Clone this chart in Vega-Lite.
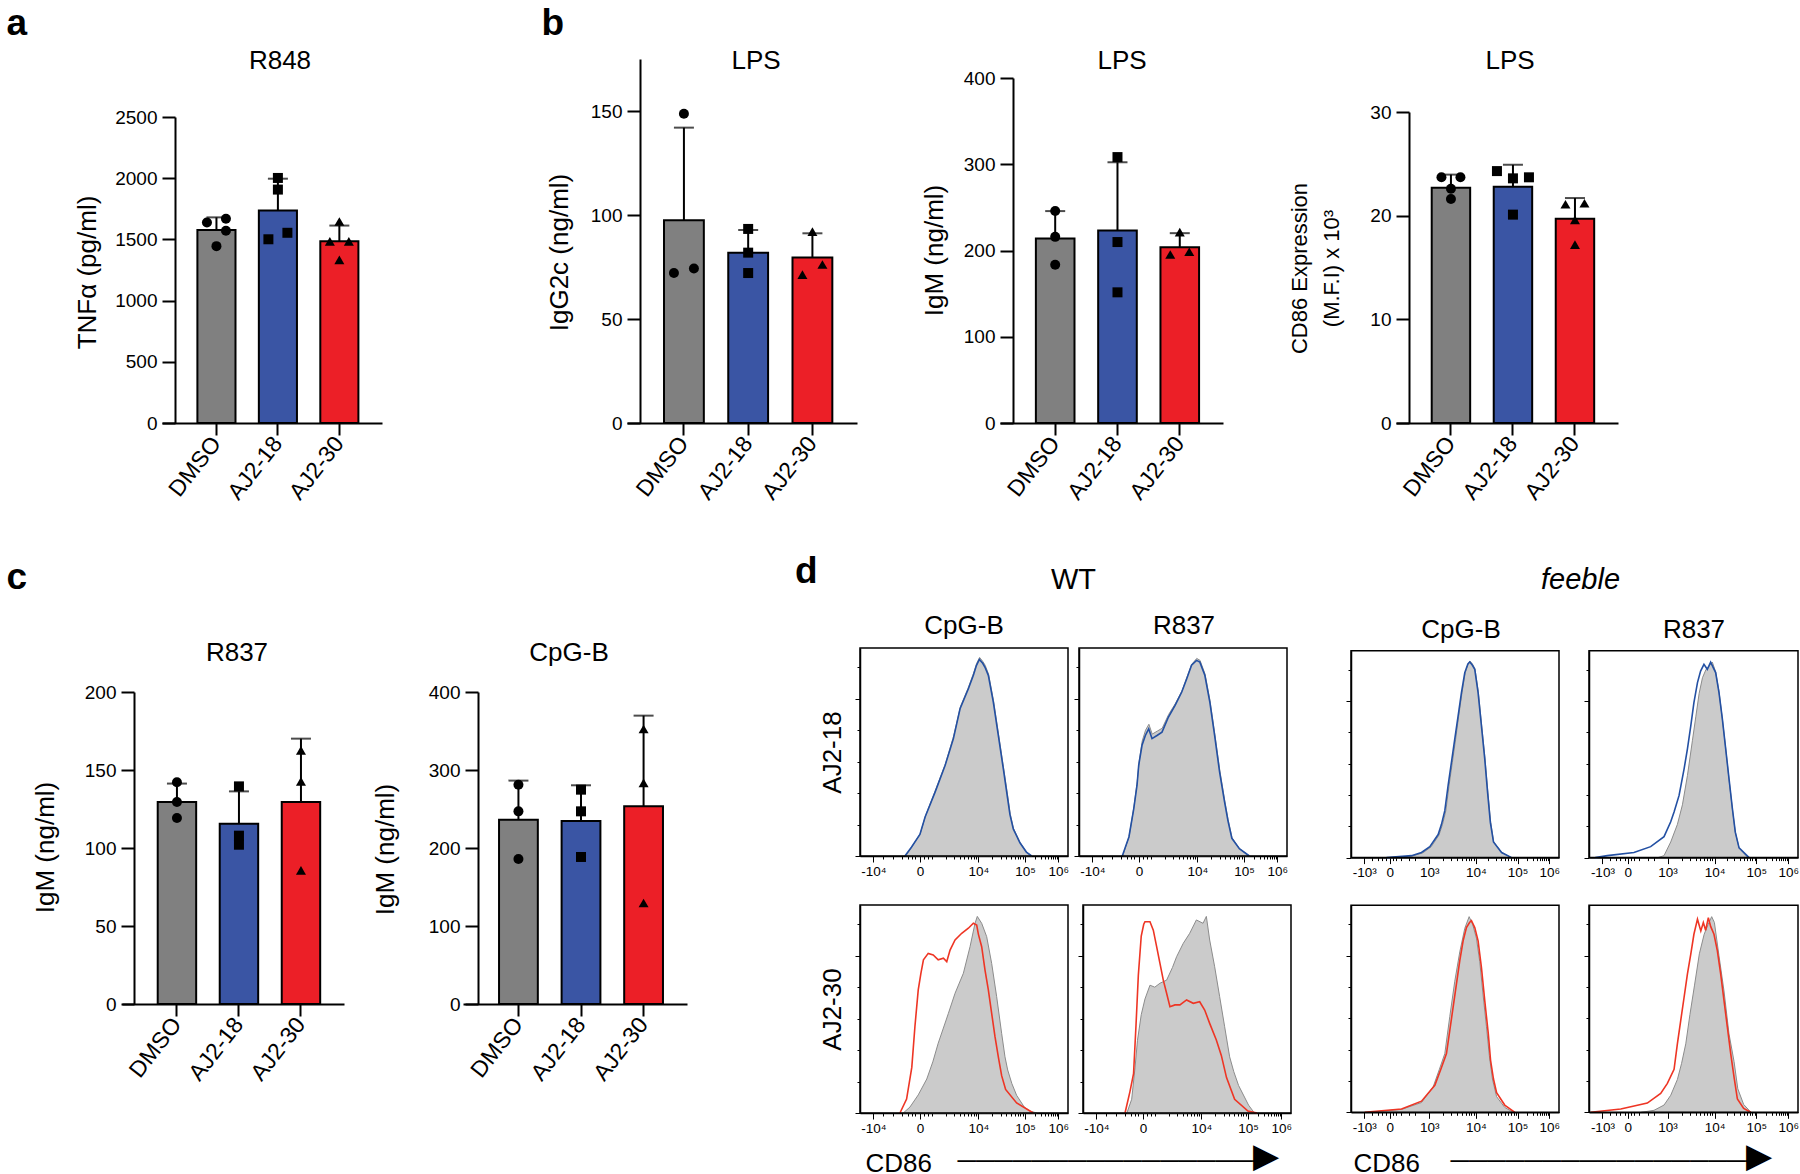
{
"$schema": "https://vega.github.io/schema/vega-lite/v6.json",
"background": "white",
"padding": 0,
"spacing": 0,
"config": {
  "font": "Liberation Sans",
  "view": {"stroke": null},
  "concat": {"spacing": 0},
  "axis": {"grid": false, "domainColor": "#000", "tickColor": "#000", "labelColor": "#000", "titleColor": "#000", "labelFont": "Liberation Sans", "titleFont": "Liberation Sans", "titleFontWeight": "normal"},
  "title": {"fontWeight": "normal", "color": "#000", "baseline": "alphabetic", "font": "Liberation Sans"}
},
"datasets": {
  "bars": [
    {"panel":"a","grp":"DMSO","mean":1576,"hi":1680},
    {"panel":"a","grp":"AJ2-18","mean":1736,"hi":1996},
    {"panel":"a","grp":"AJ2-30","mean":1484,"hi":1613},
    {"panel":"b1","grp":"DMSO","mean":97.5,"hi":142},
    {"panel":"b1","grp":"AJ2-18","mean":81.9,"hi":92.8},
    {"panel":"b1","grp":"AJ2-30","mean":79.6,"hi":91.2},
    {"panel":"b2","grp":"DMSO","mean":213.8,"hi":245.7},
    {"panel":"b2","grp":"AJ2-18","mean":223.3,"hi":302.3},
    {"panel":"b2","grp":"AJ2-30","mean":203.8,"hi":220.1},
    {"panel":"b3","grp":"DMSO","mean":22.7,"hi":23.96},
    {"panel":"b3","grp":"AJ2-18","mean":22.8,"hi":24.9},
    {"panel":"b3","grp":"AJ2-30","mean":19.7,"hi":21.7},
    {"panel":"c1","grp":"DMSO","mean":129.5,"hi":141.3},
    {"panel":"c1","grp":"AJ2-18","mean":115.6,"hi":136.3},
    {"panel":"c1","grp":"AJ2-30","mean":129.5,"hi":170.1},
    {"panel":"c2","grp":"DMSO","mean":236.3,"hi":286.4},
    {"panel":"c2","grp":"AJ2-18","mean":234.6,"hi":280.4},
    {"panel":"c2","grp":"AJ2-30","mean":253.4,"hi":369.7}
  ],
  "pts": [
    {"panel":"a","grp":"DMSO","v":1638,"j":-1},{"panel":"a","grp":"DMSO","v":1669,"j":1},{"panel":"a","grp":"DMSO","v":1571,"j":1},{"panel":"a","grp":"DMSO","v":1445,"j":0},
    {"panel":"a","grp":"AJ2-18","v":2002,"j":0},{"panel":"a","grp":"AJ2-18","v":1907,"j":0},{"panel":"a","grp":"AJ2-18","v":1501,"j":-1},{"panel":"a","grp":"AJ2-18","v":1554,"j":1},
    {"panel":"a","grp":"AJ2-30","v":1646,"j":0},{"panel":"a","grp":"AJ2-30","v":1484,"j":-1},{"panel":"a","grp":"AJ2-30","v":1484,"j":1},{"panel":"a","grp":"AJ2-30","v":1333,"j":0},
    {"panel":"b1","grp":"DMSO","v":148.7,"j":0},{"panel":"b1","grp":"DMSO","v":72.1,"j":-1},{"panel":"b1","grp":"DMSO","v":74.3,"j":1},
    {"panel":"b1","grp":"AJ2-18","v":93.3,"j":0},{"panel":"b1","grp":"AJ2-18","v":81.9,"j":0},{"panel":"b1","grp":"AJ2-18","v":72.1,"j":0},
    {"panel":"b1","grp":"AJ2-30","v":92,"j":0},{"panel":"b1","grp":"AJ2-30","v":71.3,"j":-1},{"panel":"b1","grp":"AJ2-30","v":76.2,"j":1},
    {"panel":"b2","grp":"DMSO","v":245.7,"j":0},{"panel":"b2","grp":"DMSO","v":215.8,"j":0},{"panel":"b2","grp":"DMSO","v":183.5,"j":0},
    {"panel":"b2","grp":"AJ2-18","v":308.3,"j":0},{"panel":"b2","grp":"AJ2-18","v":209.8,"j":0},{"panel":"b2","grp":"AJ2-18","v":151.5,"j":0},
    {"panel":"b2","grp":"AJ2-30","v":221.3,"j":0},{"panel":"b2","grp":"AJ2-30","v":195.4,"j":-1},{"panel":"b2","grp":"AJ2-30","v":198.6,"j":1},
    {"panel":"b3","grp":"DMSO","v":23.7,"j":-1},{"panel":"b3","grp":"DMSO","v":23.7,"j":1},{"panel":"b3","grp":"DMSO","v":22.6,"j":0},{"panel":"b3","grp":"DMSO","v":21.6,"j":0},
    {"panel":"b3","grp":"AJ2-18","v":24.3,"j":-2},{"panel":"b3","grp":"AJ2-18","v":23.6,"j":0},{"panel":"b3","grp":"AJ2-18","v":23.7,"j":2},{"panel":"b3","grp":"AJ2-18","v":20.1,"j":0},
    {"panel":"b3","grp":"AJ2-30","v":21.1,"j":-1},{"panel":"b3","grp":"AJ2-30","v":21.2,"j":1},{"panel":"b3","grp":"AJ2-30","v":19.6,"j":0},{"panel":"b3","grp":"AJ2-30","v":17.2,"j":0},
    {"panel":"c1","grp":"DMSO","v":142.1,"j":0},{"panel":"c1","grp":"DMSO","v":129.5,"j":0},{"panel":"c1","grp":"DMSO","v":119.2,"j":0},
    {"panel":"c1","grp":"AJ2-18","v":139.5,"j":0},{"panel":"c1","grp":"AJ2-18","v":107.9,"j":0},{"panel":"c1","grp":"AJ2-18","v":102.1,"j":0},
    {"panel":"c1","grp":"AJ2-30","v":162.6,"j":0},{"panel":"c1","grp":"AJ2-30","v":142.7,"j":0},{"panel":"c1","grp":"AJ2-30","v":85.7,"j":0},
    {"panel":"c2","grp":"DMSO","v":281.2,"j":0},{"panel":"c2","grp":"DMSO","v":247,"j":0},{"panel":"c2","grp":"DMSO","v":185.9,"j":0},
    {"panel":"c2","grp":"AJ2-18","v":274.8,"j":0},{"panel":"c2","grp":"AJ2-18","v":247,"j":0},{"panel":"c2","grp":"AJ2-18","v":188.5,"j":0},
    {"panel":"c2","grp":"AJ2-30","v":352.6,"j":0},{"panel":"c2","grp":"AJ2-30","v":283.4,"j":0},{"panel":"c2","grp":"AJ2-30","v":129.5,"j":0}
  ],
  "w1t": [{"x":216,"y":0},{"x":248,"y":4.6},{"x":288,"y":11},{"x":313,"y":19.8},{"x":361,"y":32.5},{"x":409,"y":46},{"x":449,"y":59.7},{"x":481,"y":74.9},{"x":521,"y":85.1},{"x":545,"y":91.9},{"x":560,"y":97},{"x":574,"y":100},{"x":590,"y":98},{"x":601,"y":96},{"x":617,"y":91.9},{"x":641,"y":78.3},{"x":665,"y":61.3},{"x":689,"y":44.4},{"x":710,"y":29.1},{"x":721,"y":21},{"x":737,"y":13.8},{"x":769,"y":6.7},{"x":800,"y":2},{"x":825,"y":0}],
  "w1c": [{"x":220,"y":0},{"x":250,"y":4.8},{"x":290,"y":11.5},{"x":315,"y":20.5},{"x":363,"y":33.5},{"x":411,"y":47},{"x":450,"y":61},{"x":483,"y":76},{"x":522,"y":86},{"x":546,"y":93},{"x":561,"y":98},{"x":575,"y":101},{"x":590,"y":99},{"x":602,"y":97},{"x":618,"y":92.5},{"x":642,"y":79},{"x":666,"y":62},{"x":690,"y":45},{"x":711,"y":30},{"x":722,"y":21.5},{"x":738,"y":14},{"x":770,"y":6.8},{"x":800,"y":2},{"x":826,"y":0}],
  "w2t": [{"x":208,"y":0},{"x":240,"y":9.7},{"x":263,"y":23.9},{"x":279,"y":36},{"x":287,"y":46.1},{"x":303,"y":56.3},{"x":319,"y":61.3},{"x":335,"y":64.7},{"x":351,"y":59.7},{"x":375,"y":61.3},{"x":399,"y":63},{"x":430,"y":70.7},{"x":462,"y":76.6},{"x":494,"y":83.4},{"x":518,"y":90.2},{"x":541,"y":97},{"x":565,"y":99.5},{"x":581,"y":98.6},{"x":605,"y":91.9},{"x":629,"y":78.3},{"x":652,"y":61.3},{"x":676,"y":42.7},{"x":700,"y":27.4},{"x":716,"y":18},{"x":735,"y":9},{"x":771,"y":3.7},{"x":819,"y":0}],
  "w2c": [{"x":210,"y":0},{"x":241,"y":10},{"x":264,"y":25},{"x":280,"y":38},{"x":289,"y":48},{"x":304,"y":58.5},{"x":320,"y":64},{"x":336,"y":67},{"x":352,"y":62},{"x":376,"y":63.5},{"x":400,"y":65},{"x":431,"y":72},{"x":463,"y":77.5},{"x":495,"y":84},{"x":519,"y":91},{"x":542,"y":97.5},{"x":566,"y":100.5},{"x":582,"y":99.5},{"x":606,"y":92.5},{"x":630,"y":79},{"x":653,"y":62},{"x":677,"y":43.5},{"x":701,"y":28},{"x":717,"y":18.5},{"x":736,"y":9.2},{"x":772,"y":3.7},{"x":820,"y":0}],
  "w3t": [{"x":192,"y":0},{"x":224,"y":7.1},{"x":249,"y":23.2},{"x":264,"y":43.9},{"x":280,"y":62.6},{"x":293,"y":71.1},{"x":305,"y":77.9},{"x":328,"y":81.2},{"x":352,"y":80.4},{"x":376,"y":77.9},{"x":401,"y":78.7},{"x":417,"y":77},{"x":433,"y":82.9},{"x":457,"y":88},{"x":489,"y":91.4},{"x":521,"y":94},{"x":545,"y":96.5},{"x":561,"y":95.6},{"x":569,"y":91},{"x":585,"y":84.6},{"x":601,"y":72.7},{"x":617,"y":62.6},{"x":633,"y":50.7},{"x":649,"y":38.8},{"x":665,"y":28.6},{"x":681,"y":19},{"x":700,"y":12},{"x":753,"y":5.1},{"x":833,"y":0}],
  "w3c": [{"x":208,"y":0},{"x":240,"y":3},{"x":280,"y":9.2},{"x":321,"y":17.3},{"x":350,"y":26},{"x":376,"y":35.5},{"x":425,"y":50.7},{"x":457,"y":60.9},{"x":497,"y":71.1},{"x":529,"y":84.6},{"x":553,"y":96.5},{"x":564,"y":100},{"x":585,"y":96.5},{"x":609,"y":89.7},{"x":633,"y":76.1},{"x":657,"y":59.2},{"x":681,"y":40.5},{"x":697,"y":28.6},{"x":710,"y":21.9},{"x":730,"y":15},{"x":753,"y":9},{"x":790,"y":3},{"x":817,"y":1},{"x":850,"y":0}],
  "w4t": [{"x":202,"y":0},{"x":226,"y":11},{"x":243,"y":20},{"x":255,"y":45},{"x":266,"y":70},{"x":280,"y":90},{"x":292,"y":96},{"x":298,"y":97.3},{"x":322,"y":97.3},{"x":338,"y":93},{"x":354,"y":84.6},{"x":370,"y":76.1},{"x":386,"y":67.6},{"x":402,"y":60.9},{"x":418,"y":54.1},{"x":442,"y":55},{"x":466,"y":55},{"x":498,"y":57.5},{"x":530,"y":55.8},{"x":561,"y":56.6},{"x":585,"y":52.4},{"x":609,"y":45.6},{"x":641,"y":37.1},{"x":665,"y":29.3},{"x":690,"y":18},{"x":729,"y":7},{"x":793,"y":1},{"x":837,"y":0}],
  "w4c": [{"x":211,"y":0},{"x":234,"y":7},{"x":250,"y":23},{"x":262,"y":37},{"x":280,"y":50},{"x":298,"y":58},{"x":322,"y":65},{"x":345,"y":64},{"x":370,"y":66},{"x":402,"y":67.6},{"x":430,"y":74},{"x":450,"y":79.5},{"x":482,"y":86.3},{"x":513,"y":91.4},{"x":545,"y":98.2},{"x":577,"y":96.5},{"x":593,"y":100},{"x":609,"y":88},{"x":633,"y":74.4},{"x":657,"y":59.2},{"x":681,"y":43.9},{"x":705,"y":28.6},{"x":725,"y":21},{"x":748,"y":14},{"x":796,"y":4},{"x":824,"y":0}],
  "f1t": [{"x":171,"y":0},{"x":291,"y":1},{"x":339,"y":2.6},{"x":379,"y":5.6},{"x":419,"y":11.8},{"x":435,"y":17},{"x":451,"y":24},{"x":467,"y":36.9},{"x":483,"y":48.8},{"x":499,"y":60.7},{"x":515,"y":72.5},{"x":531,"y":84.4},{"x":547,"y":94.6},{"x":562,"y":99},{"x":571,"y":100},{"x":583,"y":98.5},{"x":595,"y":96.3},{"x":611,"y":84.4},{"x":627,"y":67.4},{"x":643,"y":50.5},{"x":657,"y":33},{"x":670,"y":18},{"x":685,"y":8},{"x":724,"y":2.6},{"x":772,"y":0}],
  "f1c": [{"x":180,"y":0},{"x":295,"y":0.8},{"x":345,"y":2.4},{"x":385,"y":5.5},{"x":423,"y":11.5},{"x":440,"y":17},{"x":456,"y":24},{"x":471,"y":36.5},{"x":487,"y":48.5},{"x":503,"y":60.5},{"x":518,"y":72.5},{"x":534,"y":84.5},{"x":549,"y":94.5},{"x":563,"y":99},{"x":572,"y":100.5},{"x":584,"y":99},{"x":596,"y":96.5},{"x":612,"y":85},{"x":628,"y":68},{"x":644,"y":51},{"x":658,"y":33.5},{"x":671,"y":18.5},{"x":686,"y":8},{"x":725,"y":2.6},{"x":772,"y":0}],
  "f2t": [{"x":30,"y":0},{"x":88,"y":1},{"x":215,"y":2.6},{"x":295,"y":5.6},{"x":359,"y":10.7},{"x":391,"y":18.3},{"x":407,"y":23.3},{"x":431,"y":31.8},{"x":455,"y":45.4},{"x":471,"y":55.6},{"x":487,"y":67.4},{"x":502,"y":79.3},{"x":519,"y":89.5},{"x":534,"y":95.4},{"x":550,"y":98.8},{"x":566,"y":96.3},{"x":582,"y":100},{"x":595,"y":97},{"x":606,"y":94.6},{"x":622,"y":84.4},{"x":638,"y":70.9},{"x":654,"y":55.6},{"x":670,"y":40.3},{"x":686,"y":25.1},{"x":700,"y":13},{"x":718,"y":5},{"x":766,"y":0}],
  "f2c": [{"x":330,"y":0},{"x":359,"y":1},{"x":391,"y":8},{"x":423,"y":17},{"x":447,"y":27},{"x":471,"y":42},{"x":495,"y":60},{"x":511,"y":72},{"x":527,"y":84},{"x":543,"y":92},{"x":559,"y":96},{"x":575,"y":98},{"x":590,"y":100},{"x":606,"y":95},{"x":622,"y":85},{"x":638,"y":71},{"x":654,"y":56},{"x":670,"y":40},{"x":686,"y":25},{"x":700,"y":13},{"x":718,"y":5},{"x":760,"y":0}],
  "f3t": [{"x":66,"y":0},{"x":243,"y":1.7},{"x":339,"y":5.7},{"x":403,"y":13.8},{"x":435,"y":22.9},{"x":459,"y":30},{"x":475,"y":41.9},{"x":491,"y":53.7},{"x":507,"y":65.6},{"x":523,"y":77.5},{"x":539,"y":87.6},{"x":555,"y":94.4},{"x":570,"y":97},{"x":579,"y":98},{"x":595,"y":94.4},{"x":611,"y":87.6},{"x":627,"y":74.1},{"x":643,"y":57.1},{"x":660,"y":40.2},{"x":671,"y":26.6},{"x":685,"y":17},{"x":700,"y":10},{"x":739,"y":3.7},{"x":788,"y":0}],
  "f3c": [{"x":80,"y":0},{"x":243,"y":1.5},{"x":339,"y":5},{"x":395,"y":13},{"x":425,"y":22},{"x":451,"y":30},{"x":475,"y":49},{"x":499,"y":67},{"x":523,"y":82},{"x":547,"y":94},{"x":568,"y":100},{"x":585,"y":96},{"x":603,"y":89},{"x":619,"y":77},{"x":635,"y":60},{"x":651,"y":44},{"x":665,"y":29},{"x":680,"y":17},{"x":700,"y":8},{"x":739,"y":2.5},{"x":780,"y":0}],
  "f4t": [{"x":8,"y":0},{"x":152,"y":1.7},{"x":279,"y":4.7},{"x":343,"y":9.7},{"x":375,"y":14.8},{"x":407,"y":22},{"x":423,"y":35.1},{"x":439,"y":47},{"x":455,"y":58.8},{"x":471,"y":70.7},{"x":487,"y":80.9},{"x":502,"y":91},{"x":519,"y":98.7},{"x":535,"y":92.7},{"x":547,"y":97},{"x":558,"y":93},{"x":571,"y":99.5},{"x":582,"y":95},{"x":598,"y":91},{"x":614,"y":82.6},{"x":630,"y":70.7},{"x":646,"y":57.1},{"x":662,"y":43.5},{"x":678,"y":30},{"x":694,"y":18},{"x":710,"y":6.8},{"x":740,"y":2},{"x":774,"y":0}],
  "f4c": [{"x":250,"y":0},{"x":311,"y":1},{"x":359,"y":3.7},{"x":391,"y":8.7},{"x":423,"y":16.8},{"x":443,"y":25},{"x":463,"y":35},{"x":483,"y":50},{"x":505,"y":65},{"x":528,"y":81},{"x":551,"y":91},{"x":570,"y":96},{"x":587,"y":100},{"x":600,"y":97},{"x":622,"y":80},{"x":646,"y":62},{"x":670,"y":40},{"x":694,"y":26},{"x":712,"y":12},{"x":740,"y":4},{"x":775,"y":0}]
},
"vconcat": [
 {"hconcat": [
   {"width": 450, "height": 540,
    "title": {"text": "R848", "frame": "group", "anchor": "middle", "fontSize": 26, "offset": -73.5, "dx": 55},
    "encoding": {"x": {"field": "grp", "type": "nominal", "scale": {"domain": ["DMSO","AJ2-18","AJ2-30"], "range": [162, 382], "paddingInner": 0.38, "paddingOuter": 0.48, "align": 0.6},
      "axis": {"title": "a", "titleX": 6, "titleY": -388.6, "titleAlign": "left", "titleBaseline": "alphabetic", "titleAngle": 0, "titleFontSize": 37, "titleFontWeight": "bold", "offset": -117, "labelAngle": -52, "labelFontSize": 23, "tickSize": 12, "tickWidth": 2, "domainWidth": 2, "labelPadding": 4}}},
    "layer": [
      {"data": {"name": "bars"}, "transform": [{"filter": "datum.panel === 'a'"}], "mark": {"type": "bar", "stroke": "#000", "strokeWidth": 2},
       "encoding": {"y": {"field": "mean", "type": "quantitative", "scale": {"domain": [0, 2500], "range": [423, 117], "nice": false},
         "axis": {"title": "TNFα (pg/ml)", "titleX": -88, "titleY": 272, "titleAngle": -90, "titleAlign": "center", "titleBaseline": "middle", "format": "d", "values": [0,500,1000,1500,2000,2500], "offset": -175, "tickSize": 13, "tickWidth": 2, "domainWidth": 2, "labelFontSize": 19, "labelPadding": 5, "titleFontSize": 26}},
         "color": {"field": "grp", "type": "nominal", "scale": {"domain": ["DMSO","AJ2-18","AJ2-30"], "range": ["#808080","#3a55a4","#ec1f27"]}, "legend": null}}},
      {"data": {"name": "bars"}, "transform": [{"filter": "datum.panel === 'a'"}], "mark": {"type": "rule", "color": "#000", "strokeWidth": 2}, "encoding": {"y": {"field": "mean", "type": "quantitative"}, "y2": {"field": "hi"}}},
      {"data": {"name": "bars"}, "transform": [{"filter": "datum.panel === 'a'"}], "mark": {"type": "tick", "color": "#000", "orient": "horizontal", "size": 20, "thickness": 2}, "encoding": {"y": {"field": "hi", "type": "quantitative"}}},
      {"data": {"name": "pts"}, "transform": [{"filter": "datum.panel === 'a' && datum.j === 0"}], "mark": {"type": "point", "filled": true, "color": "#000", "opacity": 1, "size": 100},
       "encoding": {"y": {"field": "v", "type": "quantitative"}, "shape": {"field": "grp", "type": "nominal", "scale": {"domain": ["DMSO","AJ2-18","AJ2-30"], "range": ["circle","square","triangle-up"]}, "legend": null}}},
      {"data": {"name": "pts"}, "transform": [{"filter": "datum.panel === 'a' && datum.j === -1"}], "mark": {"type": "point", "filled": true, "color": "#000", "opacity": 1, "size": 100, "xOffset": -9.5},
       "encoding": {"y": {"field": "v", "type": "quantitative"}, "shape": {"field": "grp", "type": "nominal", "scale": {"domain": ["DMSO","AJ2-18","AJ2-30"], "range": ["circle","square","triangle-up"]}, "legend": null}}},
      {"data": {"name": "pts"}, "transform": [{"filter": "datum.panel === 'a' && datum.j === 1"}], "mark": {"type": "point", "filled": true, "color": "#000", "opacity": 1, "size": 100, "xOffset": 9.5},
       "encoding": {"y": {"field": "v", "type": "quantitative"}, "shape": {"field": "grp", "type": "nominal", "scale": {"domain": ["DMSO","AJ2-18","AJ2-30"], "range": ["circle","square","triangle-up"]}, "legend": null}}}
    ]},
   {"width": 430, "height": 540,
    "title": {"text": "LPS", "frame": "group", "anchor": "middle", "fontSize": 26, "offset": -73.5, "dx": 91},
    "encoding": {"x": {"field": "grp", "type": "nominal", "scale": {"domain": ["DMSO","AJ2-18","AJ2-30"], "range": [177, 407], "paddingInner": 0.38, "paddingOuter": 0.48, "align": 0.6},
      "axis": {"title": "b", "titleX": 91, "titleY": -388.6, "titleAlign": "left", "titleBaseline": "alphabetic", "titleAngle": 0, "titleFontSize": 37, "titleFontWeight": "bold", "offset": -117, "labelAngle": -52, "labelFontSize": 23, "tickSize": 12, "tickWidth": 2, "domainWidth": 2, "labelPadding": 4}}},
    "layer": [
      {"data": {"name": "bars"}, "transform": [{"filter": "datum.panel === 'b1'"}], "mark": {"type": "bar", "stroke": "#000", "strokeWidth": 2},
       "encoding": {"y": {"field": "mean", "type": "quantitative", "scale": {"domain": [0, 175], "range": [423, 59], "nice": false},
         "axis": {"title": "IgG2c (ng/ml)", "titleX": -81, "titleY": 252, "titleAngle": -90, "titleAlign": "center", "titleBaseline": "middle", "values": [0,50,100,150], "offset": -190, "tickSize": 13, "tickWidth": 2, "domainWidth": 2, "labelFontSize": 19, "labelPadding": 5, "titleFontSize": 26}},
         "color": {"field": "grp", "type": "nominal", "scale": {"domain": ["DMSO","AJ2-18","AJ2-30"], "range": ["#808080","#3a55a4","#ec1f27"]}, "legend": null}}},
      {"data": {"name": "bars"}, "transform": [{"filter": "datum.panel === 'b1'"}], "mark": {"type": "rule", "color": "#000", "strokeWidth": 2}, "encoding": {"y": {"field": "mean", "type": "quantitative"}, "y2": {"field": "hi"}}},
      {"data": {"name": "bars"}, "transform": [{"filter": "datum.panel === 'b1'"}], "mark": {"type": "tick", "color": "#000", "orient": "horizontal", "size": 20, "thickness": 2}, "encoding": {"y": {"field": "hi", "type": "quantitative"}}},
      {"data": {"name": "pts"}, "transform": [{"filter": "datum.panel === 'b1' && datum.j === 0"}], "mark": {"type": "point", "filled": true, "color": "#000", "opacity": 1, "size": 100},
       "encoding": {"y": {"field": "v", "type": "quantitative"}, "shape": {"field": "grp", "type": "nominal", "scale": {"domain": ["DMSO","AJ2-18","AJ2-30"], "range": ["circle","square","triangle-up"]}, "legend": null}}},
      {"data": {"name": "pts"}, "transform": [{"filter": "datum.panel === 'b1' && datum.j === -1"}], "mark": {"type": "point", "filled": true, "color": "#000", "opacity": 1, "size": 100, "xOffset": -10},
       "encoding": {"y": {"field": "v", "type": "quantitative"}, "shape": {"field": "grp", "type": "nominal", "scale": {"domain": ["DMSO","AJ2-18","AJ2-30"], "range": ["circle","square","triangle-up"]}, "legend": null}}},
      {"data": {"name": "pts"}, "transform": [{"filter": "datum.panel === 'b1' && datum.j === 1"}], "mark": {"type": "point", "filled": true, "color": "#000", "opacity": 1, "size": 100, "xOffset": 10},
       "encoding": {"y": {"field": "v", "type": "quantitative"}, "shape": {"field": "grp", "type": "nominal", "scale": {"domain": ["DMSO","AJ2-18","AJ2-30"], "range": ["circle","square","triangle-up"]}, "legend": null}}}
    ]},
   {"width": 380, "height": 540,
    "title": {"text": "LPS", "frame": "group", "anchor": "middle", "fontSize": 26, "offset": -73.5, "dx": 52},
    "encoding": {"x": {"field": "grp", "type": "nominal", "scale": {"domain": ["DMSO","AJ2-18","AJ2-30"], "range": [120, 343], "paddingInner": 0.38, "paddingOuter": 0.48, "align": 0.6},
      "axis": {"title": null, "offset": -117, "labelAngle": -52, "labelFontSize": 23, "tickSize": 12, "tickWidth": 2, "domainWidth": 2, "labelPadding": 4}}},
    "layer": [
      {"data": {"name": "bars"}, "transform": [{"filter": "datum.panel === 'b2'"}], "mark": {"type": "bar", "stroke": "#000", "strokeWidth": 2},
       "encoding": {"y": {"field": "mean", "type": "quantitative", "scale": {"domain": [0, 400], "range": [423, 78], "nice": false},
         "axis": {"title": "IgM (ng/ml)", "titleX": -79, "titleY": 250, "titleAngle": -90, "titleAlign": "center", "titleBaseline": "middle", "values": [0,100,200,300,400], "offset": -133, "tickSize": 13, "tickWidth": 2, "domainWidth": 2, "labelFontSize": 19, "labelPadding": 5, "titleFontSize": 26}},
         "color": {"field": "grp", "type": "nominal", "scale": {"domain": ["DMSO","AJ2-18","AJ2-30"], "range": ["#808080","#3a55a4","#ec1f27"]}, "legend": null}}},
      {"data": {"name": "bars"}, "transform": [{"filter": "datum.panel === 'b2'"}], "mark": {"type": "rule", "color": "#000", "strokeWidth": 2}, "encoding": {"y": {"field": "mean", "type": "quantitative"}, "y2": {"field": "hi"}}},
      {"data": {"name": "bars"}, "transform": [{"filter": "datum.panel === 'b2'"}], "mark": {"type": "tick", "color": "#000", "orient": "horizontal", "size": 20, "thickness": 2}, "encoding": {"y": {"field": "hi", "type": "quantitative"}}},
      {"data": {"name": "pts"}, "transform": [{"filter": "datum.panel === 'b2' && datum.j === 0"}], "mark": {"type": "point", "filled": true, "color": "#000", "opacity": 1, "size": 100},
       "encoding": {"y": {"field": "v", "type": "quantitative"}, "shape": {"field": "grp", "type": "nominal", "scale": {"domain": ["DMSO","AJ2-18","AJ2-30"], "range": ["circle","square","triangle-up"]}, "legend": null}}},
      {"data": {"name": "pts"}, "transform": [{"filter": "datum.panel === 'b2' && datum.j === -1"}], "mark": {"type": "point", "filled": true, "color": "#000", "opacity": 1, "size": 100, "xOffset": -9.5},
       "encoding": {"y": {"field": "v", "type": "quantitative"}, "shape": {"field": "grp", "type": "nominal", "scale": {"domain": ["DMSO","AJ2-18","AJ2-30"], "range": ["circle","square","triangle-up"]}, "legend": null}}},
      {"data": {"name": "pts"}, "transform": [{"filter": "datum.panel === 'b2' && datum.j === 1"}], "mark": {"type": "point", "filled": true, "color": "#000", "opacity": 1, "size": 100, "xOffset": 9.5},
       "encoding": {"y": {"field": "v", "type": "quantitative"}, "shape": {"field": "grp", "type": "nominal", "scale": {"domain": ["DMSO","AJ2-18","AJ2-30"], "range": ["circle","square","triangle-up"]}, "legend": null}}}
    ]},
   {"width": 540, "height": 540,
    "title": {"text": "LPS", "frame": "group", "anchor": "middle", "fontSize": 26, "offset": -73.5, "dx": -20},
    "encoding": {"x": {"field": "grp", "type": "nominal", "scale": {"domain": ["DMSO","AJ2-18","AJ2-30"], "range": [136, 358], "paddingInner": 0.38, "paddingOuter": 0.48, "align": 0.6},
      "axis": {"title": null, "offset": -117, "labelAngle": -52, "labelFontSize": 23, "tickSize": 12, "tickWidth": 2, "domainWidth": 2, "labelPadding": 4}}},
    "layer": [
      {"data": {"name": "bars"}, "transform": [{"filter": "datum.panel === 'b3'"}], "mark": {"type": "bar", "stroke": "#000", "strokeWidth": 2},
       "encoding": {"y": {"field": "mean", "type": "quantitative", "scale": {"domain": [0, 30], "range": [423, 112], "nice": false},
         "axis": {"title": ["CD86 Expression", "(M.F.I) x 10³"], "titleX": -110, "titleY": 268, "titleAngle": -90, "titleAlign": "center", "titleBaseline": "middle", "titleLineHeight": 32, "values": [0,10,20,30], "offset": -149, "tickSize": 13, "tickWidth": 2, "domainWidth": 2, "labelFontSize": 19, "labelPadding": 5, "titleFontSize": 22}},
         "color": {"field": "grp", "type": "nominal", "scale": {"domain": ["DMSO","AJ2-18","AJ2-30"], "range": ["#808080","#3a55a4","#ec1f27"]}, "legend": null}}},
      {"data": {"name": "bars"}, "transform": [{"filter": "datum.panel === 'b3'"}], "mark": {"type": "rule", "color": "#000", "strokeWidth": 2}, "encoding": {"y": {"field": "mean", "type": "quantitative"}, "y2": {"field": "hi"}}},
      {"data": {"name": "bars"}, "transform": [{"filter": "datum.panel === 'b3'"}], "mark": {"type": "tick", "color": "#000", "orient": "horizontal", "size": 20, "thickness": 2}, "encoding": {"y": {"field": "hi", "type": "quantitative"}}},
      {"data": {"name": "pts"}, "transform": [{"filter": "datum.panel === 'b3' && datum.j === 0"}], "mark": {"type": "point", "filled": true, "color": "#000", "opacity": 1, "size": 100},
       "encoding": {"y": {"field": "v", "type": "quantitative"}, "shape": {"field": "grp", "type": "nominal", "scale": {"domain": ["DMSO","AJ2-18","AJ2-30"], "range": ["circle","square","triangle-up"]}, "legend": null}}},
      {"data": {"name": "pts"}, "transform": [{"filter": "datum.panel === 'b3' && datum.j === -1"}], "mark": {"type": "point", "filled": true, "color": "#000", "opacity": 1, "size": 100, "xOffset": -9.5},
       "encoding": {"y": {"field": "v", "type": "quantitative"}, "shape": {"field": "grp", "type": "nominal", "scale": {"domain": ["DMSO","AJ2-18","AJ2-30"], "range": ["circle","square","triangle-up"]}, "legend": null}}},
      {"data": {"name": "pts"}, "transform": [{"filter": "datum.panel === 'b3' && datum.j === 1"}], "mark": {"type": "point", "filled": true, "color": "#000", "opacity": 1, "size": 100, "xOffset": 9.5},
       "encoding": {"y": {"field": "v", "type": "quantitative"}, "shape": {"field": "grp", "type": "nominal", "scale": {"domain": ["DMSO","AJ2-18","AJ2-30"], "range": ["circle","square","triangle-up"]}, "legend": null}}},
      {"data": {"name": "pts"}, "transform": [{"filter": "datum.panel === 'b3' && datum.j === -2"}], "mark": {"type": "point", "filled": true, "color": "#000", "opacity": 1, "size": 100, "xOffset": -16},
       "encoding": {"y": {"field": "v", "type": "quantitative"}, "shape": {"field": "grp", "type": "nominal", "scale": {"domain": ["DMSO","AJ2-18","AJ2-30"], "range": ["circle","square","triangle-up"]}, "legend": null}}},
      {"data": {"name": "pts"}, "transform": [{"filter": "datum.panel === 'b3' && datum.j === 2"}], "mark": {"type": "point", "filled": true, "color": "#000", "opacity": 1, "size": 100, "xOffset": 16},
       "encoding": {"y": {"field": "v", "type": "quantitative"}, "shape": {"field": "grp", "type": "nominal", "scale": {"domain": ["DMSO","AJ2-18","AJ2-30"], "range": ["circle","square","triangle-up"]}, "legend": null}}}
    ]}
 ]},
 {"hconcat": [
   {"width": 360, "height": 634,
    "title": {"text": "R837", "frame": "group", "anchor": "middle", "fontSize": 26, "offset": -126.3, "dx": 57},
    "encoding": {"x": {"field": "grp", "type": "nominal", "scale": {"domain": ["DMSO","AJ2-18","AJ2-30"], "range": [122, 344], "paddingInner": 0.38, "paddingOuter": 0.48, "align": 0.6},
      "axis": {"title": "c", "titleX": 6, "titleY": -416, "titleAlign": "left", "titleBaseline": "alphabetic", "titleAngle": 0, "titleFontSize": 37, "titleFontWeight": "bold", "offset": -170, "labelAngle": -52, "labelFontSize": 23, "tickSize": 12, "tickWidth": 2, "domainWidth": 2, "labelPadding": 4}}},
    "layer": [
      {"data": {"name": "bars"}, "transform": [{"filter": "datum.panel === 'c1'"}], "mark": {"type": "bar", "stroke": "#000", "strokeWidth": 2},
       "encoding": {"y": {"field": "mean", "type": "quantitative", "scale": {"domain": [0, 200], "range": [464, 152], "nice": false},
         "axis": {"title": "IgM (ng/ml)", "titleX": -89, "titleY": 307, "titleAngle": -90, "titleAlign": "center", "titleBaseline": "middle", "values": [0,50,100,150,200], "offset": -134, "tickSize": 13, "tickWidth": 2, "domainWidth": 2, "labelFontSize": 19, "labelPadding": 5, "titleFontSize": 26}},
         "color": {"field": "grp", "type": "nominal", "scale": {"domain": ["DMSO","AJ2-18","AJ2-30"], "range": ["#808080","#3a55a4","#ec1f27"]}, "legend": null}}},
      {"data": {"name": "bars"}, "transform": [{"filter": "datum.panel === 'c1'"}], "mark": {"type": "rule", "color": "#000", "strokeWidth": 2}, "encoding": {"y": {"field": "mean", "type": "quantitative"}, "y2": {"field": "hi"}}},
      {"data": {"name": "bars"}, "transform": [{"filter": "datum.panel === 'c1'"}], "mark": {"type": "tick", "color": "#000", "orient": "horizontal", "size": 20, "thickness": 2}, "encoding": {"y": {"field": "hi", "type": "quantitative"}}},
      {"data": {"name": "pts"}, "transform": [{"filter": "datum.panel === 'c1'"}], "mark": {"type": "point", "filled": true, "color": "#000", "opacity": 1, "size": 100},
       "encoding": {"y": {"field": "v", "type": "quantitative"}, "shape": {"field": "grp", "type": "nominal", "scale": {"domain": ["DMSO","AJ2-18","AJ2-30"], "range": ["circle","square","triangle-up"]}, "legend": null}}}
    ]},
   {"width": 400, "height": 634,
    "title": {"text": "CpG-B", "frame": "group", "anchor": "middle", "fontSize": 26, "offset": -126.3, "dx": 9},
    "encoding": {"x": {"field": "grp", "type": "nominal", "scale": {"domain": ["DMSO","AJ2-18","AJ2-30"], "range": [103, 327], "paddingInner": 0.38, "paddingOuter": 0.48, "align": 0.6},
      "axis": {"title": null, "offset": -170, "labelAngle": -52, "labelFontSize": 23, "tickSize": 12, "tickWidth": 2, "domainWidth": 2, "labelPadding": 4}}},
    "layer": [
      {"data": {"name": "bars"}, "transform": [{"filter": "datum.panel === 'c2'"}], "mark": {"type": "bar", "stroke": "#000", "strokeWidth": 2},
       "encoding": {"y": {"field": "mean", "type": "quantitative", "scale": {"domain": [0, 400], "range": [464, 152], "nice": false},
         "axis": {"title": "IgM (ng/ml)", "titleX": -93, "titleY": 309, "titleAngle": -90, "titleAlign": "center", "titleBaseline": "middle", "values": [0,100,200,300,400], "offset": -118, "tickSize": 13, "tickWidth": 2, "domainWidth": 2, "labelFontSize": 19, "labelPadding": 5, "titleFontSize": 26}},
         "color": {"field": "grp", "type": "nominal", "scale": {"domain": ["DMSO","AJ2-18","AJ2-30"], "range": ["#808080","#3a55a4","#ec1f27"]}, "legend": null}}},
      {"data": {"name": "bars"}, "transform": [{"filter": "datum.panel === 'c2'"}], "mark": {"type": "rule", "color": "#000", "strokeWidth": 2}, "encoding": {"y": {"field": "mean", "type": "quantitative"}, "y2": {"field": "hi"}}},
      {"data": {"name": "bars"}, "transform": [{"filter": "datum.panel === 'c2'"}], "mark": {"type": "tick", "color": "#000", "orient": "horizontal", "size": 20, "thickness": 2}, "encoding": {"y": {"field": "hi", "type": "quantitative"}}},
      {"data": {"name": "pts"}, "transform": [{"filter": "datum.panel === 'c2'"}], "mark": {"type": "point", "filled": true, "color": "#000", "opacity": 1, "size": 100},
       "encoding": {"y": {"field": "v", "type": "quantitative"}, "shape": {"field": "grp", "type": "nominal", "scale": {"domain": ["DMSO","AJ2-18","AJ2-30"], "range": ["circle","square","triangle-up"]}, "legend": null}}}
    ]},
   {"vconcat": [
     {"width": 1040, "height": 60, "data": {"values": []}, "mark": "point",
      "title": {"text": "d", "fontSize": 37, "fontWeight": "bold", "anchor": "start", "frame": "group", "dx": 35, "offset": -51},
      "encoding": {
        "x": {"field": "u", "type": "quantitative", "scale": {"domain": [0, 1]}, "axis": {"domain": false, "ticks": false, "labels": false, "grid": false, "title": "WT", "titleX": 313, "titleY": -12, "titleAlign": "center", "titleBaseline": "alphabetic", "titleAngle": 0, "titleFontSize": 29}},
        "y": {"field": "v", "type": "quantitative", "scale": {"domain": [0, 1]}, "axis": {"domain": false, "ticks": false, "labels": false, "grid": false, "title": "feeble", "titleX": 820, "titleY": 48, "titleAlign": "center", "titleBaseline": "alphabetic", "titleAngle": 0, "titleFontSize": 29, "titleFontStyle": "italic"}}}},
     {"hconcat": [
       {"vconcat": [
         {"width": 313, "height": 280,
          "title": {"text": "CpG-B", "frame": "group", "anchor": "middle", "fontSize": 26, "offset": -38.5, "dx": 47.5},
          "resolve": {"axis": {"x": "independent"}},
          "layer": [
            {"data": {"name": "w1c"}, "mark": {"type": "area", "fill": "#cbcbcb", "stroke": "#8c8c8c", "strokeWidth": 1},
             "encoding": {
               "x": {"field": "x", "type": "quantitative", "scale": {"domain": [0, 1000], "range": [100, 308], "nice": false, "zero": false},
                 "axis": {"title": null, "orient": "bottom", "offset": -24, "values": [64, 288, 569, 793, 953], "labelExpr": "datum.value == 64 ? '-10⁴' : datum.value == 288 ? '0' : datum.value == 569 ? '10⁴' : datum.value == 793 ? '10⁵' : '10⁶'", "labelFontSize": 13.5, "labelPadding": 2, "labelOverlap": false, "labelFlush": false, "tickSize": 6, "tickWidth": 1, "domainWidth": 1.5}},
               "y": {"field": "y", "type": "quantitative", "scale": {"domain": [0, 105.8], "range": [256, 48], "nice": false},
                 "axis": {"title": "AJ2-18", "titleX": -28, "titleY": 152, "titleAngle": -90, "titleAlign": "center", "titleBaseline": "middle", "titleFontSize": 26, "offset": -100, "labels": false, "values": [0,4,8,12,16,20,24,28,32,36,40,44,48,52,56,60,64,68,72,76,80,84,88,92,96,100], "tickWidth": 1, "domainWidth": 1.5, "tickSize": {"condition": {"test": "datum.value % 20 === 0", "value": 5}, "value": 3}}}}},
            {"data": {"name": "w1t"}, "mark": {"type": "line", "color": "#2350a3", "strokeWidth": 1.6},
             "encoding": {"x": {"field": "x", "type": "quantitative", "axis": {"title": null, "orient": "bottom", "offset": -24, "values": [110,160,200,230,250,265,310,325,345,412,452,480,502,520,534,547,559,636,676,704,726,743,758,771,783,841,869,889,905,917,928,937,946], "labels": false, "domain": false, "tickSize": 3, "tickWidth": 1}}, "y": {"field": "y", "type": "quantitative"}}},
            {"data": {"values": [{}]}, "mark": {"type": "rect", "fillOpacity": 0, "stroke": "#000", "strokeWidth": 1.5}, "encoding": {"x": {"datum": 0, "type": "quantitative", "axis": null}, "x2": {"datum": 1000}, "y": {"datum": 0, "type": "quantitative"}, "y2": {"datum": 105.8}}}
          ]},
         {"width": 313, "height": 260,
          "resolve": {"axis": {"x": "independent"}},
          "layer": [
            {"data": {"name": "w3c"}, "mark": {"type": "area", "fill": "#cbcbcb", "stroke": "#8c8c8c", "strokeWidth": 1},
             "encoding": {
               "x": {"field": "x", "type": "quantitative", "scale": {"domain": [0, 1000], "range": [100, 308], "nice": false, "zero": false},
                 "axis": {"title": null, "orient": "bottom", "offset": -27, "values": [64, 288, 569, 793, 953], "labelExpr": "datum.value == 64 ? '-10⁴' : datum.value == 288 ? '0' : datum.value == 569 ? '10⁴' : datum.value == 793 ? '10⁵' : '10⁶'", "labelFontSize": 13.5, "labelPadding": 2, "labelOverlap": false, "labelFlush": false, "tickSize": 6, "tickWidth": 1, "domainWidth": 1.5}},
               "y": {"field": "y", "type": "quantitative", "scale": {"domain": [0, 105.8], "range": [233, 25], "nice": false},
                 "axis": {"title": "AJ2-30", "titleX": -28, "titleY": 129, "titleAngle": -90, "titleAlign": "center", "titleBaseline": "middle", "titleFontSize": 26, "offset": -100, "labels": false, "values": [0,4,8,12,16,20,24,28,32,36,40,44,48,52,56,60,64,68,72,76,80,84,88,92,96,100], "tickWidth": 1, "domainWidth": 1.5, "tickSize": {"condition": {"test": "datum.value % 20 === 0", "value": 5}, "value": 3}}}}},
            {"data": {"name": "w3t"}, "mark": {"type": "line", "color": "#ee3524", "strokeWidth": 1.6},
             "encoding": {"x": {"field": "x", "type": "quantitative", "axis": {"title": null, "orient": "bottom", "offset": -27, "values": [110,160,200,230,250,265,310,325,345,412,452,480,502,520,534,547,559,636,676,704,726,743,758,771,783,841,869,889,905,917,928,937,946], "labels": false, "domain": false, "tickSize": 3, "tickWidth": 1}}, "y": {"field": "y", "type": "quantitative"}}},
            {"data": {"values": [{}]}, "mark": {"type": "rect", "fillOpacity": 0, "stroke": "#000", "strokeWidth": 1.5}, "encoding": {"x": {"datum": 0, "type": "quantitative", "axis": null}, "x2": {"datum": 1000}, "y": {"datum": 0, "type": "quantitative"}, "y2": {"datum": 105.8}}}
          ]}
       ]},
       {"vconcat": [
         {"width": 247, "height": 280,
          "title": {"text": "R837", "frame": "group", "anchor": "middle", "fontSize": 26, "offset": -38.5, "dx": -13.5},
          "resolve": {"axis": {"x": "independent"}},
          "layer": [
            {"data": {"name": "w2c"}, "mark": {"type": "area", "fill": "#cbcbcb", "stroke": "#8c8c8c", "strokeWidth": 1},
             "encoding": {
               "x": {"field": "x", "type": "quantitative", "scale": {"domain": [0, 1000], "range": [5, 213], "nice": false, "zero": false},
                 "axis": {"title": null, "orient": "bottom", "offset": -24, "values": [64, 288, 569, 793, 953], "labelExpr": "datum.value == 64 ? '-10⁴' : datum.value == 288 ? '0' : datum.value == 569 ? '10⁴' : datum.value == 793 ? '10⁵' : '10⁶'", "labelFontSize": 13.5, "labelPadding": 2, "labelOverlap": false, "labelFlush": false, "tickSize": 6, "tickWidth": 1, "domainWidth": 1.5}},
               "y": {"field": "y", "type": "quantitative", "scale": {"domain": [0, 105.8], "range": [256, 48], "nice": false},
                 "axis": {"title": null, "offset": -5, "labels": false, "values": [0,4,8,12,16,20,24,28,32,36,40,44,48,52,56,60,64,68,72,76,80,84,88,92,96,100], "tickWidth": 1, "domainWidth": 1.5, "tickSize": {"condition": {"test": "datum.value % 20 === 0", "value": 5}, "value": 3}}}}},
            {"data": {"name": "w2t"}, "mark": {"type": "line", "color": "#2350a3", "strokeWidth": 1.6},
             "encoding": {"x": {"field": "x", "type": "quantitative", "axis": {"title": null, "orient": "bottom", "offset": -24, "values": [110,160,200,230,250,265,310,325,345,412,452,480,502,520,534,547,559,636,676,704,726,743,758,771,783,841,869,889,905,917,928,937,946], "labels": false, "domain": false, "tickSize": 3, "tickWidth": 1}}, "y": {"field": "y", "type": "quantitative"}}},
            {"data": {"values": [{}]}, "mark": {"type": "rect", "fillOpacity": 0, "stroke": "#000", "strokeWidth": 1.5}, "encoding": {"x": {"datum": 0, "type": "quantitative", "axis": null}, "x2": {"datum": 1000}, "y": {"datum": 0, "type": "quantitative"}, "y2": {"datum": 105.8}}}
          ]},
         {"width": 247, "height": 260,
          "resolve": {"axis": {"x": "independent"}},
          "layer": [
            {"data": {"name": "w4c"}, "mark": {"type": "area", "fill": "#cbcbcb", "stroke": "#8c8c8c", "strokeWidth": 1},
             "encoding": {
               "x": {"field": "x", "type": "quantitative", "scale": {"domain": [0, 1000], "range": [9, 217], "nice": false, "zero": false},
                 "axis": {"title": null, "orient": "bottom", "offset": -27, "values": [64, 288, 569, 793, 953], "labelExpr": "datum.value == 64 ? '-10⁴' : datum.value == 288 ? '0' : datum.value == 569 ? '10⁴' : datum.value == 793 ? '10⁵' : '10⁶'", "labelFontSize": 13.5, "labelPadding": 2, "labelOverlap": false, "labelFlush": false, "tickSize": 6, "tickWidth": 1, "domainWidth": 1.5}},
               "y": {"field": "y", "type": "quantitative", "scale": {"domain": [0, 105.8], "range": [233, 25], "nice": false},
                 "axis": {"title": null, "offset": -9, "labels": false, "values": [0,4,8,12,16,20,24,28,32,36,40,44,48,52,56,60,64,68,72,76,80,84,88,92,96,100], "tickWidth": 1, "domainWidth": 1.5, "tickSize": {"condition": {"test": "datum.value % 20 === 0", "value": 5}, "value": 3}}}}},
            {"data": {"name": "w4t"}, "mark": {"type": "line", "color": "#ee3524", "strokeWidth": 1.6},
             "encoding": {"x": {"field": "x", "type": "quantitative", "axis": {"title": null, "orient": "bottom", "offset": -27, "values": [110,160,200,230,250,265,310,325,345,412,452,480,502,520,534,547,559,636,676,704,726,743,758,771,783,841,869,889,905,917,928,937,946], "labels": false, "domain": false, "tickSize": 3, "tickWidth": 1}}, "y": {"field": "y", "type": "quantitative"}}},
            {"data": {"values": [{}]}, "mark": {"type": "rect", "fillOpacity": 0, "stroke": "#000", "strokeWidth": 1.5}, "encoding": {"x": {"datum": 0, "type": "quantitative", "axis": null}, "x2": {"datum": 1000}, "y": {"datum": 0, "type": "quantitative"}, "y2": {"datum": 105.8}}}
          ]}
       ]},
       {"vconcat": [
         {"width": 255, "height": 280,
          "title": {"text": "CpG-B", "frame": "group", "anchor": "middle", "fontSize": 26, "offset": -42.5, "dx": 12.5},
          "resolve": {"axis": {"x": "independent"}},
          "layer": [
            {"data": {"name": "f1c"}, "mark": {"type": "area", "fill": "#cbcbcb", "stroke": "#8c8c8c", "strokeWidth": 1},
             "encoding": {
               "x": {"field": "x", "type": "quantitative", "scale": {"domain": [0, 1000], "range": [30, 238], "nice": false, "zero": false},
                 "axis": {"title": null, "orient": "bottom", "offset": -22.4, "values": [64, 186, 376, 601, 801, 953], "labelExpr": "datum.value == 64 ? '-10³' : datum.value == 186 ? '0' : datum.value == 376 ? '10³' : datum.value == 601 ? '10⁴' : datum.value == 801 ? '10⁵' : '10⁶'", "labelFontSize": 13.5, "labelPadding": 2, "labelOverlap": false, "labelFlush": false, "tickSize": 6, "tickWidth": 1, "domainWidth": 1.5}},
               "y": {"field": "y", "type": "quantitative", "scale": {"domain": [0, 105.8], "range": [257.6, 50.7], "nice": false},
                 "axis": {"title": null, "offset": -30, "labels": false, "values": [0,4,8,12,16,20,24,28,32,36,40,44,48,52,56,60,64,68,72,76,80,84,88,92,96,100], "tickWidth": 1, "domainWidth": 1.5, "tickSize": {"condition": {"test": "datum.value % 20 === 0", "value": 5}, "value": 3}}}}},
            {"data": {"name": "f1t"}, "mark": {"type": "line", "color": "#2350a3", "strokeWidth": 1.6},
             "encoding": {"x": {"field": "x", "type": "quantitative", "axis": {"title": null, "orient": "bottom", "offset": -22.4, "values": [100,130,150,170,200,215,240,280,310,444,483,511,533,551,566,579,590,661,696,721,741,757,770,782,792,847,874,893,907,919,929,938,946], "labels": false, "domain": false, "tickSize": 3, "tickWidth": 1}}, "y": {"field": "y", "type": "quantitative"}}},
            {"data": {"values": [{}]}, "mark": {"type": "rect", "fillOpacity": 0, "stroke": "#000", "strokeWidth": 1.5}, "encoding": {"x": {"datum": 0, "type": "quantitative", "axis": null}, "x2": {"datum": 1000}, "y": {"datum": 0, "type": "quantitative"}, "y2": {"datum": 105.8}}}
          ]},
         {"width": 255, "height": 260,
          "resolve": {"axis": {"x": "independent"}},
          "layer": [
            {"data": {"name": "f3c"}, "mark": {"type": "area", "fill": "#cbcbcb", "stroke": "#8c8c8c", "strokeWidth": 1},
             "encoding": {
               "x": {"field": "x", "type": "quantitative", "scale": {"domain": [0, 1000], "range": [30, 238], "nice": false, "zero": false},
                 "axis": {"title": null, "orient": "bottom", "offset": -27.7, "values": [64, 186, 376, 601, 801, 953], "labelExpr": "datum.value == 64 ? '-10³' : datum.value == 186 ? '0' : datum.value == 376 ? '10³' : datum.value == 601 ? '10⁴' : datum.value == 801 ? '10⁵' : '10⁶'", "labelFontSize": 13.5, "labelPadding": 2, "labelOverlap": false, "labelFlush": false, "tickSize": 6, "tickWidth": 1, "domainWidth": 1.5}},
               "y": {"field": "y", "type": "quantitative", "scale": {"domain": [0, 105.8], "range": [232.3, 25.3], "nice": false},
                 "axis": {"title": null, "offset": -30, "labels": false, "values": [0,4,8,12,16,20,24,28,32,36,40,44,48,52,56,60,64,68,72,76,80,84,88,92,96,100], "tickWidth": 1, "domainWidth": 1.5, "tickSize": {"condition": {"test": "datum.value % 20 === 0", "value": 5}, "value": 3}}}}},
            {"data": {"name": "f3t"}, "mark": {"type": "line", "color": "#ee3524", "strokeWidth": 1.6},
             "encoding": {"x": {"field": "x", "type": "quantitative", "axis": {"title": null, "orient": "bottom", "offset": -27.7, "values": [100,130,150,170,200,215,240,280,310,444,483,511,533,551,566,579,590,661,696,721,741,757,770,782,792,847,874,893,907,919,929,938,946], "labels": false, "domain": false, "tickSize": 3, "tickWidth": 1}}, "y": {"field": "y", "type": "quantitative"}}},
            {"data": {"values": [{}]}, "mark": {"type": "rect", "fillOpacity": 0, "stroke": "#000", "strokeWidth": 1.5}, "encoding": {"x": {"datum": 0, "type": "quantitative", "axis": null}, "x2": {"datum": 1000}, "y": {"datum": 0, "type": "quantitative"}, "y2": {"datum": 105.8}}}
          ]}
       ]},
       {"vconcat": [
         {"width": 225, "height": 280,
          "title": {"text": "R837", "frame": "group", "anchor": "middle", "fontSize": 26, "offset": -42.5, "dx": 5.5},
          "resolve": {"axis": {"x": "independent"}},
          "layer": [
            {"data": {"name": "f2c"}, "mark": {"type": "area", "fill": "#cbcbcb", "stroke": "#8c8c8c", "strokeWidth": 1},
             "encoding": {
               "x": {"field": "x", "type": "quantitative", "scale": {"domain": [0, 1000], "range": [13, 222], "nice": false, "zero": false},
                 "axis": {"title": null, "orient": "bottom", "offset": -22.4, "values": [64, 186, 376, 601, 801, 953], "labelExpr": "datum.value == 64 ? '-10³' : datum.value == 186 ? '0' : datum.value == 376 ? '10³' : datum.value == 601 ? '10⁴' : datum.value == 801 ? '10⁵' : '10⁶'", "labelFontSize": 13.5, "labelPadding": 2, "labelOverlap": false, "labelFlush": false, "tickSize": 6, "tickWidth": 1, "domainWidth": 1.5}},
               "y": {"field": "y", "type": "quantitative", "scale": {"domain": [0, 105.8], "range": [257.6, 50.7], "nice": false},
                 "axis": {"title": null, "offset": -13, "labels": false, "values": [0,4,8,12,16,20,24,28,32,36,40,44,48,52,56,60,64,68,72,76,80,84,88,92,96,100], "tickWidth": 1, "domainWidth": 1.5, "tickSize": {"condition": {"test": "datum.value % 20 === 0", "value": 5}, "value": 3}}}}},
            {"data": {"name": "f2t"}, "mark": {"type": "line", "color": "#2350a3", "strokeWidth": 1.6},
             "encoding": {"x": {"field": "x", "type": "quantitative", "axis": {"title": null, "orient": "bottom", "offset": -22.4, "values": [100,130,150,170,200,215,240,280,310,444,483,511,533,551,566,579,590,661,696,721,741,757,770,782,792,847,874,893,907,919,929,938,946], "labels": false, "domain": false, "tickSize": 3, "tickWidth": 1}}, "y": {"field": "y", "type": "quantitative"}}},
            {"data": {"values": [{}]}, "mark": {"type": "rect", "fillOpacity": 0, "stroke": "#000", "strokeWidth": 1.5}, "encoding": {"x": {"datum": 0, "type": "quantitative", "axis": null}, "x2": {"datum": 1000}, "y": {"datum": 0, "type": "quantitative"}, "y2": {"datum": 105.8}}}
          ]},
         {"width": 225, "height": 260,
          "resolve": {"axis": {"x": "independent"}},
          "layer": [
            {"data": {"name": "f4c"}, "mark": {"type": "area", "fill": "#cbcbcb", "stroke": "#8c8c8c", "strokeWidth": 1},
             "encoding": {
               "x": {"field": "x", "type": "quantitative", "scale": {"domain": [0, 1000], "range": [13, 222], "nice": false, "zero": false},
                 "axis": {"title": null, "orient": "bottom", "offset": -27.7, "values": [64, 186, 376, 601, 801, 953], "labelExpr": "datum.value == 64 ? '-10³' : datum.value == 186 ? '0' : datum.value == 376 ? '10³' : datum.value == 601 ? '10⁴' : datum.value == 801 ? '10⁵' : '10⁶'", "labelFontSize": 13.5, "labelPadding": 2, "labelOverlap": false, "labelFlush": false, "tickSize": 6, "tickWidth": 1, "domainWidth": 1.5}},
               "y": {"field": "y", "type": "quantitative", "scale": {"domain": [0, 105.8], "range": [232.3, 25.3], "nice": false},
                 "axis": {"title": null, "offset": -13, "labels": false, "values": [0,4,8,12,16,20,24,28,32,36,40,44,48,52,56,60,64,68,72,76,80,84,88,92,96,100], "tickWidth": 1, "domainWidth": 1.5, "tickSize": {"condition": {"test": "datum.value % 20 === 0", "value": 5}, "value": 3}}}}},
            {"data": {"name": "f4t"}, "mark": {"type": "line", "color": "#ee3524", "strokeWidth": 1.6},
             "encoding": {"x": {"field": "x", "type": "quantitative", "axis": {"title": null, "orient": "bottom", "offset": -27.7, "values": [100,130,150,170,200,215,240,280,310,444,483,511,533,551,566,579,590,661,696,721,741,757,770,782,792,847,874,893,907,919,929,938,946], "labels": false, "domain": false, "tickSize": 3, "tickWidth": 1}}, "y": {"field": "y", "type": "quantitative"}}},
            {"data": {"values": [{}]}, "mark": {"type": "rect", "fillOpacity": 0, "stroke": "#000", "strokeWidth": 1.5}, "encoding": {"x": {"datum": 0, "type": "quantitative", "axis": null}, "x2": {"datum": 1000}, "y": {"datum": 0, "type": "quantitative"}, "y2": {"datum": 105.8}}}
          ]}
       ]}
     ]},
     {"hconcat": [
       {"width": 560, "height": 34, "data": {"values": []}, "mark": "point",
        "title": {"text": "▶", "fontSize": 34, "anchor": "start", "frame": "group", "dx": 493, "offset": -30},
        "encoding": {
          "x": {"field": "u", "type": "quantitative", "scale": {"domain": [0, 1]}, "axis": {"domain": false, "ticks": false, "labels": false, "grid": false, "title": "CD86", "titleX": 105, "titleY": -7, "titleAlign": "left", "titleBaseline": "alphabetic", "titleAngle": 0, "titleFontSize": 26}},
          "y": {"field": "v", "type": "quantitative", "scale": {"domain": [0, 1]}, "axis": {"domain": false, "ticks": false, "labels": false, "grid": false, "title": "─────────────────", "titleX": 197, "titleY": 24, "titleAlign": "left", "titleBaseline": "alphabetic", "titleAngle": 0, "titleFontSize": 26}}}},
       {"width": 480, "height": 34, "data": {"values": []}, "mark": "point",
        "title": {"text": "▶", "fontSize": 34, "anchor": "start", "frame": "group", "dx": 426, "offset": -30},
        "encoding": {
          "x": {"field": "u", "type": "quantitative", "scale": {"domain": [0, 1]}, "axis": {"domain": false, "ticks": false, "labels": false, "grid": false, "title": "CD86", "titleX": 33, "titleY": -7, "titleAlign": "left", "titleBaseline": "alphabetic", "titleAngle": 0, "titleFontSize": 26}},
          "y": {"field": "v", "type": "quantitative", "scale": {"domain": [0, 1]}, "axis": {"domain": false, "ticks": false, "labels": false, "grid": false, "title": "─────────────────", "titleX": 130, "titleY": 24, "titleAlign": "left", "titleBaseline": "alphabetic", "titleAngle": 0, "titleFontSize": 26}}}}
     ]}
   ]}
 ]}
]
}
